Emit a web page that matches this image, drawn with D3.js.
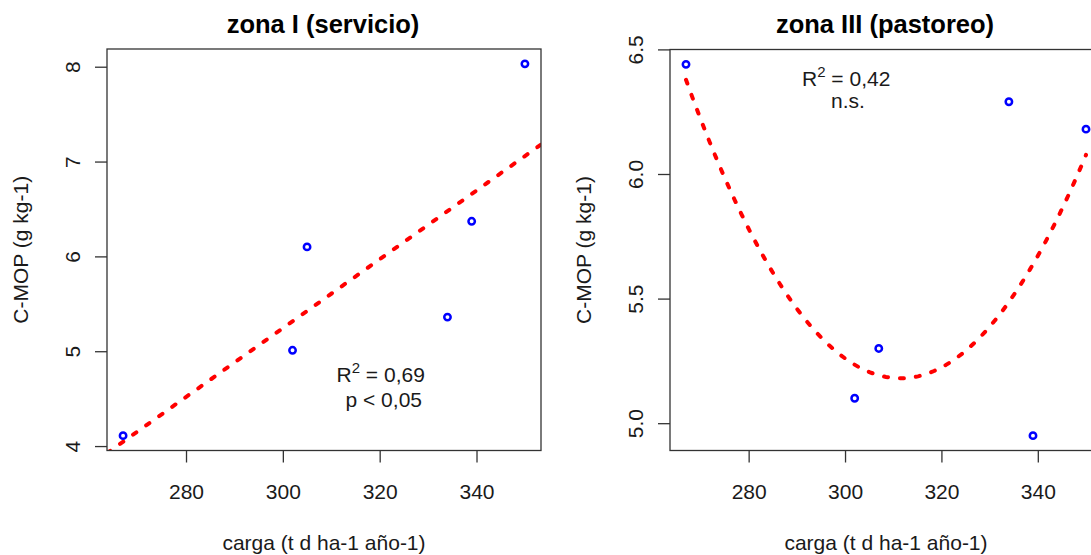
<!DOCTYPE html>
<html>
<head>
<meta charset="utf-8">
<script src="https://cdn.jsdelivr.net/npm/d3@7"></script>
<style>
  html, body { margin: 0; padding: 0; background: #ffffff; overflow: hidden; }
  svg { display: block; font-family: "Liberation Sans", Arial, sans-serif; }
</style>
</head>
<body>
<svg id="chart" width="1091" height="555"></svg>
<script>
// ---- data ----
const xTicks = [280, 300, 320, 340];
const xLabel = "carga (t d ha-1 año-1)";
const yLabel = "C-MOP (g kg-1)";

const zone1Title = "zona I (servicio)";
const zone1Carga = [267, 302, 305, 334, 339, 350];
const zone1CMOP  = [4.11, 5.01, 6.10, 5.36, 6.37, 8.03];
const zone1YTicks = [4, 5, 6, 7, 8];
const zone1YTickLabels = ["4", "5", "6", "7", "8"];
const zone1R2 = "0,69";
const zone1Sig = "p < 0,05";

const zone3Title = "zona III (pastoreo)";
const zone3Carga = [267, 302, 307, 334, 339, 350];
const zone3CMOP  = [6.44, 5.10, 5.30, 6.29, 4.95, 6.18];
const zone3YTicks = [5.0, 5.5, 6.0, 6.5];
const zone3YTickLabels = ["5.0", "5.5", "6.0", "6.5"];
const zone3R2 = "0,42";
const zone3Sig = "n.s.";
// quadratic fit drawn in the reference, read as vertex form: [vertex x, vertex y, curvature]
const zone3QuadFit = [311.5, 5.18, 0.000605];

// ---- helpers ----
function extend(arr) { // R-style 4% axis extension
  const lo = d3.min(arr), hi = d3.max(arr), r = hi - lo;
  return [lo - 0.04 * r, hi + 0.04 * r];
}
function linFit(xs, ys) {
  const mx = d3.mean(xs), my = d3.mean(ys);
  let sxy = 0, sxx = 0;
  xs.forEach((x, i) => { sxy += (x - mx) * (ys[i] - my); sxx += (x - mx) * (x - mx); });
  const b = sxy / sxx;
  return x => my + b * (x - mx);
}
function quadFromVertex(v) {
  return x => v[1] + v[2] * (x - v[0]) * (x - v[0]);
}

const svg = d3.select("#chart");
svg.append("rect").attr("width", 1091).attr("height", 555).attr("fill", "#fff");

const textColor = "#1a1a1a";
const frameColor = "#333";

function panel(cfg) {
  const { left, right, top, bottom } = cfg.box;
  const x = d3.scaleLinear().domain(extend(cfg.xs)).range([left, right]);
  const y = d3.scaleLinear().domain(extend(cfg.ys)).range([bottom, top]);
  const g = svg.append("g");

  const clipId = "clip" + cfg.id;
  svg.append("clipPath").attr("id", clipId)
    .append("rect").attr("x", left).attr("y", top)
    .attr("width", right - left).attr("height", bottom - top);

  // fitted curve
  const plot = g.append("g").attr("clip-path", `url(#${clipId})`);
  let fitPts;
  if (cfg.fit === "linear") {
    const f = linFit(cfg.xs, cfg.ys);
    const d = x.domain();
    fitPts = [[d[0], f(d[0])], [d[1], f(d[1])]];
  } else {
    const f = quadFromVertex(cfg.quad);
    const lo = d3.min(cfg.xs), hi = d3.max(cfg.xs);
    fitPts = d3.range(0, 101).map(i => { const xv = lo + (hi - lo) * i / 100; return [xv, f(xv)]; });
  }
  plot.append("path")
    .attr("d", d3.line().x(d => x(d[0])).y(d => y(d[1]))(fitPts))
    .attr("fill", "none").attr("stroke", "#ff0000")
    .attr("stroke-width", 4).attr("stroke-dasharray", "4 12")
    .attr("stroke-linecap", "round");

  // points
  g.selectAll("circle.pt").data(cfg.xs.map((v, i) => [v, cfg.ys[i]]))
    .join("circle").attr("class", "pt")
    .attr("cx", d => x(d[0])).attr("cy", d => y(d[1])).attr("r", 3.2)
    .attr("fill", "none").attr("stroke", "#0000ff").attr("stroke-width", 2.5);

  // frame
  g.append("rect").attr("x", left).attr("y", top)
    .attr("width", right - left).attr("height", bottom - top)
    .attr("fill", "none").attr("stroke", frameColor).attr("stroke-width", 1.3);

  // x axis
  const xa = g.append("g").attr("transform", `translate(0,${bottom})`)
    .call(d3.axisBottom(x).tickValues(xTicks).tickSize(12).tickPadding(0).tickFormat(d3.format("d")));
  xa.select(".domain").remove();
  xa.selectAll("line").attr("stroke", frameColor).attr("stroke-width", 1.3);
  xa.selectAll("text").attr("y", 48.5).attr("dy", 0)
    .attr("font-size", 21).attr("fill", textColor).attr("font-family", "Liberation Sans, Arial, sans-serif");

  // y axis
  const ya = g.append("g").attr("transform", `translate(${left},0)`)
    .call(d3.axisLeft(y).tickValues(cfg.yTicks).tickSize(12)
      .tickFormat((d, i) => cfg.yTickLabels[i]));
  ya.select(".domain").remove();
  ya.selectAll("line").attr("stroke", frameColor).attr("stroke-width", 1.3);
  ya.selectAll("text").attr("transform", "rotate(-90)").attr("x", 0).attr("y", -27.5).attr("dy", 0)
    .attr("text-anchor", "middle").attr("font-size", 21).attr("fill", textColor)
    .attr("font-family", "Liberation Sans, Arial, sans-serif");

  // title
  g.append("text").attr("x", (left + right) / 2 - 1).attr("y", 33)
    .attr("text-anchor", "middle").attr("font-weight", "bold").attr("font-size", 25.5)
    .attr("fill", "#000").text(cfg.title);

  // axis labels
  g.append("text").attr("x", (left + right) / 2).attr("y", 550)
    .attr("text-anchor", "middle").attr("font-size", 21).attr("fill", textColor).text(xLabel);
  g.append("text")
    .attr("transform", `translate(${left - 79},${(top + bottom) / 2}) rotate(-90)`)
    .attr("text-anchor", "middle").attr("font-size", 21).attr("fill", textColor).text(yLabel);

  // annotation
  const a1 = g.append("text").attr("x", cfg.ann.x1).attr("y", cfg.ann.y1)
    .attr("font-size", 21).attr("fill", textColor);
  a1.append("tspan").text("R");
  a1.append("tspan").attr("font-size", 15).attr("dy", -9).text("2");
  a1.append("tspan").attr("dy", 9).text(" = " + cfg.r2);
  g.append("text").attr("x", cfg.ann.x2).attr("y", cfg.ann.y2)
    .attr("font-size", 21).attr("fill", textColor).text(cfg.sig);
}

panel({
  id: 1, title: zone1Title, xs: zone1Carga, ys: zone1CMOP,
  yTicks: zone1YTicks, yTickLabels: zone1YTickLabels, fit: "linear",
  r2: zone1R2, sig: zone1Sig,
  box: { left: 107, right: 541, top: 49, bottom: 450.5 },
  ann: { x1: 336.5, y1: 382, x2: 345.5, y2: 406.5 }
});
panel({
  id: 3, title: zone3Title, xs: zone3Carga, ys: zone3CMOP,
  yTicks: zone3YTicks, yTickLabels: zone3YTickLabels, fit: "quad", quad: zone3QuadFit,
  r2: zone3R2, sig: zone3Sig,
  box: { left: 670, right: 1102, top: 49.5, bottom: 450.5 },
  ann: { x1: 802, y1: 86, x2: 831, y2: 107.5 }
});
</script>
</body>
</html>
